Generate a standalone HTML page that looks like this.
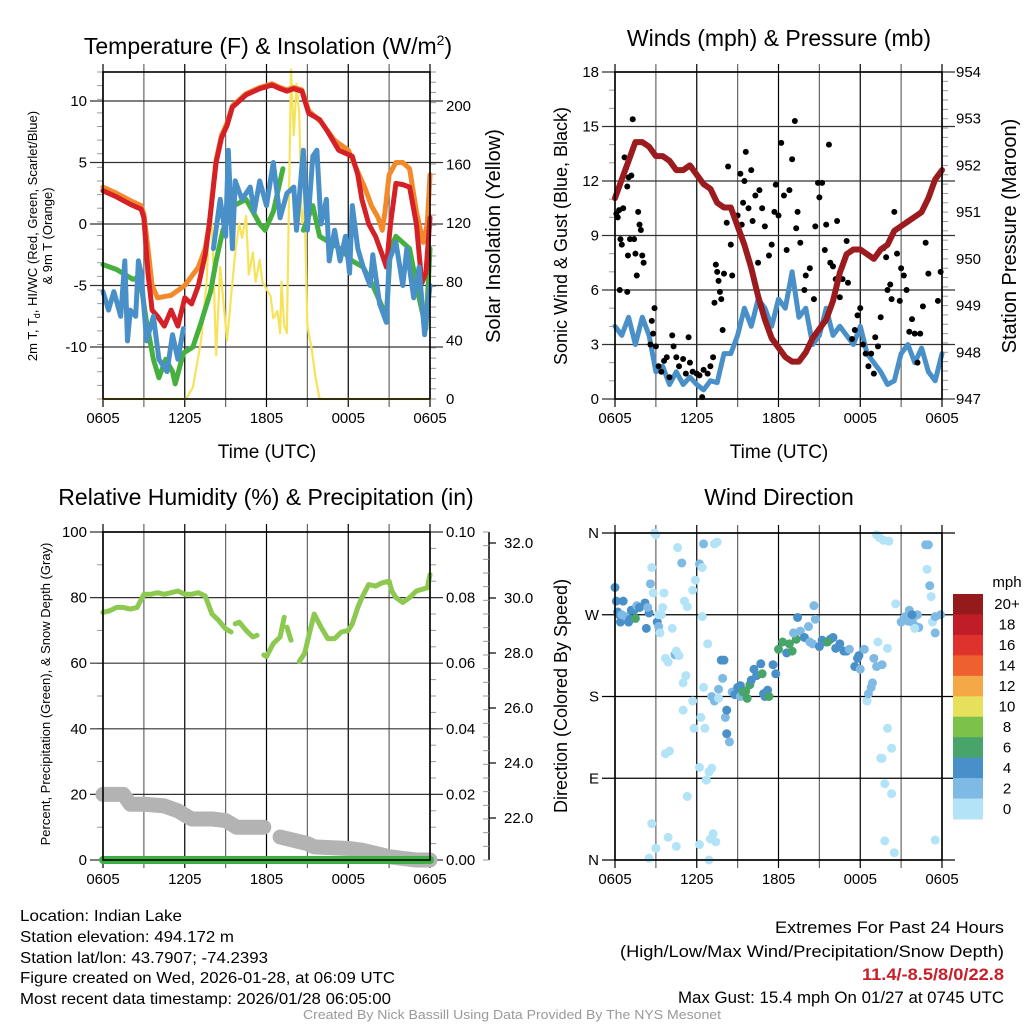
<!DOCTYPE html>
<html><head><meta charset="utf-8"><style>
html,body{margin:0;padding:0;background:#fff;}
svg{display:block;font-family:"Liberation Sans",Arial,sans-serif;}
</style></head><body>
<svg id="fig" width="1024" height="1024" viewBox="0 0 1024 1024">
<rect width="1024" height="1024" fill="#fff"/>
<text x="268" y="54" font-size="23" text-anchor="middle">Temperature (F) &amp; Insolation (W/m<tspan dy="-9" font-size="14">2</tspan><tspan dy="9">)</tspan></text>
<text x="779" y="46" font-size="23" text-anchor="middle">Winds (mph) &amp; Pressure (mb)</text>
<text x="266" y="505" font-size="23" text-anchor="middle">Relative Humidity (%) &amp; Precipitation (in)</text>
<text x="779" y="505" font-size="23" text-anchor="middle">Wind Direction</text>
<text x="267" y="458" font-size="19" text-anchor="middle">Time (UTC)</text>
<text x="779" y="458" font-size="19" text-anchor="middle">Time (UTC)</text>
<text transform="translate(37,236) rotate(-90)" font-size="13" text-anchor="middle">2m T, T<tspan dy="3" font-size="9">d</tspan><tspan dy="-3">, HI/WC (Red, Green, Scarlet/Blue)</tspan></text>
<text transform="translate(52,236) rotate(-90)" font-size="13" text-anchor="middle">&amp; 9m T (Orange)</text>
<text transform="translate(500,236) rotate(-90)" font-size="20" text-anchor="middle">Solar Insolation (Yellow)</text>
<text transform="translate(567,236) rotate(-90)" font-size="18" text-anchor="middle">Sonic Wind &amp; Gust (Blue, Black)</text>
<text transform="translate(1016,236) rotate(-90)" font-size="20" text-anchor="middle">Station Pressure (Maroon)</text>
<text transform="translate(50,694) rotate(-90)" font-size="13" text-anchor="middle">Percent, Precipitation (Green), &amp; Snow Depth (Gray)</text>
<text transform="translate(567,696) rotate(-90)" font-size="18" text-anchor="middle">Direction (Colored By Speed)</text>
<g font-size="16">
<text x="20" y="921" textLength="162" lengthAdjust="spacingAndGlyphs">Location: Indian Lake</text>
<text x="20" y="942" textLength="214" lengthAdjust="spacingAndGlyphs">Station elevation: 494.172 m</text>
<text x="20" y="963" textLength="248" lengthAdjust="spacingAndGlyphs">Station lat/lon: 43.7907; -74.2393</text>
<text x="20" y="983" textLength="375" lengthAdjust="spacingAndGlyphs">Figure created on Wed, 2026-01-28, at 06:09 UTC</text>
<text x="20" y="1004" textLength="371" lengthAdjust="spacingAndGlyphs">Most recent data timestamp: 2026/01/28 06:05:00</text>
</g>
<g font-size="17">
<text x="775" y="933" textLength="229" lengthAdjust="spacingAndGlyphs">Extremes For Past 24 Hours</text>
<text x="620" y="957" textLength="384" lengthAdjust="spacingAndGlyphs">(High/Low/Max Wind/Precipitation/Snow Depth)</text>
<text x="862" y="980" fill="#c8202a" font-weight="bold" textLength="142" lengthAdjust="spacingAndGlyphs">11.4/-8.5/8/0/22.8</text>
<text x="678" y="1003" textLength="326" lengthAdjust="spacingAndGlyphs">Max Gust: 15.4 mph On 01/27 at 0745 UTC</text>
</g>
<text x="303" y="1019" font-size="13" fill="#999" textLength="418" lengthAdjust="spacingAndGlyphs">Created By Nick Bassill Using Data Provided By The NYS Mesonet</text>
<g id="plots"></g>
</svg>
<script>
// ---------- data (hours after 0605 UTC) ----------
const xTickLabels = ["0605","1205","1805","0005","0605"];
const tempTicks = [-10,-5,0,5,10];
const solarTicks = [0,40,80,120,160,200];
const windTicks = [0,3,6,9,12,15,18];
const presTicks = [947,948,949,950,951,952,953,954];
const rhTicks = [0,20,40,60,80,100];
const precipTicks = ["0.00","0.02","0.04","0.06","0.08","0.10"];
const snowTicks = ["22.0","24.0","26.0","28.0","30.0","32.0"];
const dirTicks = ["N","E","S","W","N"];
const speedBins = ["0","2","4","6","8","10","12","14","16","18","20+"];

const redH = [0,1,2,2.8,3,3.3,3.6,4,4.5,5,5.5,6,6.5,7,7.5,7.8,8.3,8.7,9.1,9.5,10,10.5,11.5,12.4,13,13.5,14,14.6,15.1,15.9,16.5,17.3,18.3,18.7,19,19.5,20,20.5,20.8,21.1,21.5,22,22.5,23,23.4,23.7,24];
const redV = [2.7,2.2,1.6,1.2,0.5,-4,-7,-7.5,-8.3,-7,-8.3,-6,-6.5,-5,-2.5,0,5,7,8,9.5,10,10.5,11,11.3,11,10.8,11,10.8,9,8.5,7.5,6,5.5,4,2,0,-1,-2.5,-3.5,0,3.3,3.2,3,0,-4.8,-4,0.5];
const orangeH = [0,1,2,2.8,3,3.3,3.6,4,5,6,7,7.5,7.8,8.3,8.7,9.1,9.5,10,10.5,11.5,12.4,13,13.5,14,14.6,15.1,16,17,18,18.6,19.2,19.7,20.2,20.5,20.7,21,21.5,22,22.5,23,23.5,23.8,24];
const orangeV = [3,2.5,1.9,1.5,0.8,-2,-5,-6,-5.8,-5,-3.5,-2,0,5.2,7.2,8.2,9.6,10.1,10.6,11.1,11.4,11.1,10.9,11.1,10.9,9.2,8.3,6.8,6,4.5,3,1.5,0.5,-0.5,1,4,5,5,4.5,1,-1.5,0,4];
const greenH = [0,1,2.2,2.7,3.2,3.7,4.1,4.6,5.1,5.3,5.9,6.6,7.2,7.9,8.3,8.8,9.6,10.5,11,11.5,11.9,12.5,13.2,null,14.7,15.4,15.9,17.4,18.3,19.1,19.8,20.8,21.1,21.5,22.5,23.2,23.7,24];
const greenV = [-3.3,-3.7,-4.5,-4.3,-8,-11,-12.5,-11,-12,-13,-10.5,-10,-8,-5.5,-3,-0.5,1.5,2,1,0,-0.5,1,4.5,null,-0.5,1.5,-1,-2,-3,-3.5,-5,-7.5,-2,-1,-2,-6,-8.5,-2];
const blueH = [0,0.4,0.8,1.3,1.6,1.8,2,2.4,2.6,2.8,3.2,3.7,4.1,4.7,5.1,5.5,5.9,null,8.1,8.6,9,9.2,9.5,9.7,10.2,10.8,11.1,11.5,12,12.5,13,13.5,14,14.2,14.7,15,15.4,15.7,16,16.4,16.6,17,17.4,17.8,18.1,18.3,18.7,19.1,19.6,19.8,20.3,20.8,21,21.5,22,22.3,22.8,23.2,23.6,23.8,24];
const blueV = [-5.5,-7,-5.5,-7.5,-3,-9.5,-7,-7.5,-3,-4,-9.5,-7.5,-11,-12,-9,-11,-8.5,null,-2,2,-1,6,-2,3.5,2,3,1,3.5,1.5,5,0.5,2.5,3,-0.5,6,-0.5,5.5,6,0,2,-3,-0.5,-3,-1,-4,1.5,-2,-3.5,-5,-2.5,-6.5,-8,-3,-1.5,-5,-2,-6,-3.5,-9,-7,-5];
const solarH = [0,6.1,6.6,7.2,7.6,7.9,8.1,8.3,8.6,8.9,9.1,9.4,9.7,10,10.2,10.5,10.7,11,11.2,11.5,11.7,12,12.3,12.5,12.8,13,13.1,13.3,13.5,13.8,14,14.2,14.4,14.6,14.8,15,15.3,15.6,15.9,24];
const solarV = [0,0,8,40,80,140,90,30,90,60,40,70,100,120,110,125,85,100,80,95,80,75,70,55,60,45,80,50,45,225,180,215,195,120,130,50,35,15,0,0];

const windH = [0,0.5,1,1.5,2,2.5,3,3.5,4,4.5,5,5.5,6,6.5,7,7.5,8,8.5,9,9.5,10,10.5,11,11.5,12,12.5,13,13.5,14,14.5,15,15.5,16,16.5,17,17.5,18,18.5,19,19.5,20,20.5,21,21.5,22,22.5,23,23.5,24];
const windV = [4,3.5,4.5,3,4.5,3.5,1.5,1.8,0.8,1.5,0.8,1.2,0.8,0.5,1,0.9,2.5,2.5,3.5,5,4,5.5,5,4,5.5,5,7,4.5,5,3,3.5,5,3.5,4,3.5,3,4,2.5,2,1.5,0.8,1,2.5,3,2,2.8,1.5,1,2.5];
const presH = [0,0.5,1,1.5,2,2.5,3,3.5,4,4.5,5,5.5,6,6.5,7,7.5,8,8.5,9,9.5,10,10.5,11,11.5,12,12.5,13,13.5,14,14.5,15,15.5,16,16.5,17,17.5,18,18.5,19,19.5,20,20.5,21,21.5,22,22.5,23,23.5,24];
const presV = [951.3,951.7,952.1,952.5,952.5,952.4,952.2,952.2,952.1,951.9,951.9,952.0,951.8,951.6,951.5,951.2,951.1,951.1,950.7,950.3,949.8,949.2,948.7,948.3,948.1,947.9,947.8,947.8,948.0,948.3,948.5,948.7,949.1,949.7,950.1,950.2,950.2,950.1,950.0,950.2,950.3,950.6,950.7,950.8,950.9,951.0,951.3,951.7,951.9];
const gustH = [0.1,0.2,0.3,0.4,0.5,0.6,0.7,0.8,0.9,1.0,1.1,1.2,1.3,1.4,1.5,1.6,1.7,1.8,1.9,2.0,2.1,0.35,0.9,0.95,2.6,2.7,2.8,2.9,3.0,3.2,3.4,3.6,3.8,4.0,4.2,4.3,4.5,4.7,5.0,5.2,5.4,5.5,5.7,6.0,6.2,6.4,6.5,6.8,7.0,7.2,7.3,7.4,7.5,7.6,7.7,7.8,7.9,8.0,8.2,8.3,8.5,8.6,9.0,9.2,9.3,9.4,9.5,9.6,9.8,10.0,10.1,10.3,10.5,10.6,10.8,11.0,11.3,11.5,11.7,11.8,12.0,12.2,12.4,12.6,12.8,13.0,13.2,13.3,13.4,13.6,13.9,14.0,14.3,14.6,14.7,14.9,15.0,15.2,15.4,15.5,15.7,15.8,16.0,16.2,16.3,16.5,16.7,17.0,17.1,17.4,17.6,17.8,18.0,18.2,18.4,18.6,18.8,19.0,19.1,19.3,19.5,19.7,19.9,20.0,20.2,20.3,20.5,20.7,20.9,21.0,21.2,21.4,21.6,21.8,22.0,22.2,22.4,22.6,22.8,23.0,23.7,23.9];
const gustV = [10.2,10,10.4,8.8,8.5,10.5,13.3,12.7,11.7,12.2,8.8,12.3,15.4,8.8,8,6.8,10.3,9.6,9.3,7.9,7.5,6,5.9,7.9,3,4.3,3.6,5,2.9,1.8,1.5,2.1,2.3,1.2,3.5,2.9,2.3,1.8,2.2,1.4,3.4,2.0,1.5,1.4,1.3,0.1,1.6,1.4,1.8,2.3,5.3,7.4,7.0,6.5,5.9,5.5,3.8,6.9,9.7,12.8,8.5,6.8,10.1,12.4,9.6,10.8,12.0,13.6,10.5,12.6,9.8,11.2,7.5,11.5,10.5,9.5,7.9,8.5,10.3,11.8,10.1,14.1,11.2,8.2,11.5,13.2,15.3,9.4,10.3,8.6,6.0,6.8,7.2,5.5,9.5,11.9,11.1,11.9,8.2,9.6,14.0,7.5,7.3,6.6,9.8,5.6,6.6,8.7,6.4,3.3,3.8,4.6,5.0,3.0,2.5,1.8,2.5,1.4,3.4,2.9,4.5,8.3,7.8,6.0,6.3,5.5,10.3,8.0,5.4,7.2,6.8,6.0,3.7,4.4,3.6,2.0,3.6,5.1,8.6,6.9,5.4,7.0];

const rhH = [0,0.5,1,1.5,2,2.5,3,3.5,4,4.5,5,5.5,6,6.5,7,7.5,8,8.5,9,9.4,null,9.7,10,10.5,11,11.3,null,11.8,12,12.5,13,13.3,null,13.5,13.8,null,14.4,14.8,15.2,15.5,16,16.5,17,17.5,18,18.3,18.7,19,19.5,20,20.5,21,21.2,21.5,22,22.5,23,23.8,24];
const rhV = [75.5,76,77,77,76.5,77,81,81,81.5,81,81.5,82,81,81,81.5,80.5,75,73,70.5,69.5,null,72,72.5,70,68,68.5,null,62.5,62,66,68,74,null,71,67,null,60.5,63,70,75,71,67.5,67.5,69.5,70,72,77,80,84,83.5,84.5,85,82,80,78.5,80,82,83,87];
const snowH = [0,1.5,2,3,4.5,5.5,6.5,8,9,9.8,11.8,null,13,14,15,15.5,18,19,20,21,22,23,24];
const snowV = [20,20,17,17,16.5,15,12.5,12.5,12,10,10,null,7,6,5,4,3.5,3,2,1,0.5,0,0];
const precipH = [0,24];
const precipV = [0,0];

const dirH = [0,0.1,0.2,0.3,0.4,0.6,0.5,0.8,1,1.1,1.2,1.4,1.5,1.6,1.8,2.2,2.3,2.5,2.4,2.6,2.7,2.8,2.9,3.0,3.1,3.2,3.3,3.4,3.5,3.6,3.2,3.7,3.9,4.2,4.4,4.5,4.7,5.0,5.2,5.1,5.3,4.9,4.6,4.5,3.9,3.0,2.5,2.7,4.0,3.7,5.8,6.2,6.6,6.7,6.9,7.1,5.3,5.0,5.7,6.3,5.7,5.9,6.5,6.8,6.4,7.3,7.5,6.2,7.2,7.4,7.0,6.9,6.5,6.2,6.4,7.1,7.3,7.6,7.8,8.0,7.9,7.6,8.1,8.2,8.4,8.2,8.6,8.8,9.0,9.2,9.2,9.4,9.6,9.9,9.7,10.0,10.2,10.4,10.7,10.8,10.9,11.0,11.2,11.3,11.6,11.8,12.0,12.3,12.6,12.8,13.0,13.3,13.6,13.4,13.1,13.9,14.2,14.3,14.5,14.6,14.7,15.0,15.2,15.5,15.8,16.0,16.2,16.5,16.8,17.0,17.2,17.6,17.9,18.0,18.3,17.8,18.5,18.6,18.8,18.9,15.6,19.0,19.3,19.2,20.0,19.6,19.2,19.7,19.4,20.1,20.0,20.3,19.6,19.5,19.8,20.3,20.6,19.8,20.5,21.0,21.2,21.5,21.8,22.0,22.2,21.9,21.3,21.6,22.3,21.8,22.8,23.0,22.9,23.1,23.2,23.3,23.5,23.5,23.9,22.0,23.5];
const dirV = [300,285,273,270,262,285,270,268,262,265,275,275,266,280,278,283,255,272,278,304,322,294,360,358,262,257,250,270,278,294,270,222,218,255,226,230,225,195,203,285,279,327,344,15,25,13,2,40,120,117,145,102,145,88,97,101,70,165,175,157,297,308,190,238,268,348,350,17,29,20,23,0,348,326,322,180,175,178,220,220,200,188,157,139,130,165,185,182,190,192,180,185,186,193,178,198,210,203,216,205,183,180,187,180,215,205,232,240,228,238,230,243,252,267,250,245,257,240,238,280,265,235,242,240,243,245,233,238,230,230,232,213,225,210,232,222,175,183,190,195,240,222,240,213,233,215,358,352,355,351,145,123,112,112,84,73,282,21,8,262,266,263,262,258,270,267,268,275,256,270,347,347,320,302,290,262,268,250,270,255,22];
const dirC = [2,2,2,2,2,2,1,1,2,2,2,2,3,1,2,2,2,2,1,1,0,0,0,0,2,1,0,0,0,0,0,0,0,0,1,0,0,0,0,0,0,1,0,0,0,0,0,0,0,0,0,0,0,0,0,0,0,0,0,0,0,0,0,0,0,0,0,0,0,0,0,0,1,1,0,1,1,0,2,2,1,1,1,2,1,2,1,2,2,2,1,3,3,3,3,2,2,2,2,3,2,2,2,3,2,2,3,3,2,3,3,3,1,2,1,2,1,1,1,1,1,2,2,2,2,2,2,2,2,2,1,2,2,1,1,2,0,1,1,1,3,1,0,1,0,1,0,0,0,0,0,0,0,0,0,0,0,0,0,1,1,1,1,1,1,1,1,1,1,2,1,1,0,1,0,0,1,1,1,0,0];
const binColors = ["#b3e3f7","#7fbae5","#4a90c8","#47a56a","#7cc24a","#e6e05a","#f5a946","#ee6030","#de332d","#c01d27","#951a1c"];

// ---------- drawing ----------
const NS="http://www.w3.org/2000/svg";
const root=document.getElementById('plots');
function mk(tag,attrs,parent){const e=document.createElementNS(NS,tag);for(const k in attrs)e.setAttribute(k,attrs[k]);(parent||root).appendChild(e);return e;}
function scale(d0,d1,r0,r1){return v=>r0+(v-d0)*(r1-r0)/(d1-d0);}
function pathD(xs,ys,sx,sy){let d="",pen=false;for(let i=0;i<xs.length;i++){if(xs[i]===null||ys[i]===null){pen=false;continue;}d+=(pen?"L":"M")+sx(xs[i]).toFixed(1)+","+sy(ys[i]).toFixed(1);pen=true;}return d;}

function frame(L,R,T,B,name){
  const g=mk('g',{});
  
  
  const sx=scale(0,24,L,R);
  for(let h=0;h<=24;h+=3){mk('line',{x1:sx(h),x2:sx(h),y1:T-8,y2:B+8,stroke:(h%6===0)?'#000':'#666','stroke-width':1.2},g);}
  xTickLabels.forEach((t,i)=>{const tx=mk('text',{x:sx(i*6),y:B+24,'font-size':15,'text-anchor':'middle'},g);tx.textContent=t;
    
    });
  return {g,sx};
}
function hgrid(g,L,R,ys,color){ys.forEach(y=>mk('line',{x1:L-13,x2:R+13,y1:y,y2:y,stroke:color||'#333','stroke-width':1.2},g));}
function box(g,L,R,T,B){mk('rect',{x:L,y:T,width:R-L,height:B-T,fill:'none',stroke:'#000','stroke-width':1.6},g);}
function minor(g,x,y0,y1,n,dir){for(let i=0;i<=n;i++){const y=y0+(y1-y0)*i/n;mk('line',{x1:x,x2:x+dir*6,y1:y,y2:y,stroke:'#999','stroke-width':1},g);}}
function lbl(g,x,y,t,anchor,size,name){const e=mk('text',{x:x,y:y+5,'font-size':size||15,'text-anchor':anchor},g);e.textContent=t;
  
  return e;}
function line(xs,ys,sx,sy,color,w,name){const p=mk('path',{d:pathD(xs,ys,sx,sy),fill:'none',stroke:color,'stroke-width':w,'stroke-linejoin':'round','stroke-linecap':'round'});
  
  return p;}

// Panel 1: temperature
(function(){
  const L=103,R=430,T=72,B=399;
  const {g,sx}=frame(L,R,T,B,'temperature');
  const sy=scale(0,10,224,101);
  const sS=scale(0,200,399,106);
  minor(g,L,T,B,24,-1);minor(g,R,T,B,32,1);
  hgrid(g,L,R,tempTicks.map(sy));
  tempTicks.forEach(v=>lbl(g,L-16,sy(v),String(v),'end',15,'temp-tick-label'));
  solarTicks.forEach(v=>lbl(g,R+16,sS(v),String(v),'start',15,'solar-tick-label'));
  line(solarH,solarV,sx,sS,'#f7e35a',2.2,'solar-insolation-line');
  line(greenH,greenV,sx,sy,'#45b03e',5,'dewpoint-line');
  line(orangeH,orangeV,sx,sy,'#f28a2b',5,'temp-9m-line');
  line(redH,redV,sx,sy,'#d42027',5,'temp-2m-line');
  line(blueH,blueV,sx,sy,'#4a90c8',5,'wind-chill-line');
  box(root,L,R,T,B);
})();

// Panel 2: winds
(function(){
  const L=615,R=942,T=72,B=399;
  const {g,sx}=frame(L,R,T,B,'winds');
  const sy=scale(0,18,B,T);
  const sp=scale(947,954,B,T);
  minor(g,L,T,B,18,-1);minor(g,R,T,B,35,1);
  hgrid(g,L,R,windTicks.map(sy));
  windTicks.forEach(v=>lbl(g,L-16,sy(v),String(v),'end',15,'wind-tick-label'));
  presTicks.forEach(v=>lbl(g,R+14,sp(v),String(v),'start',15,'pressure-tick-label'));
  line(windH,windV,sx,sy,'#4a90c8',5,'sonic-wind-line');
  gustH.forEach((h,i)=>{const c=mk('circle',{cx:sx(h),cy:sy(gustV[i]),r:3,fill:'#000'});
    
    });
  line(presH,presV,sx,sp,'#9b1b1e',6,'pressure-line');
  box(root,L,R,T,B);
})();

// Panel 3: humidity
(function(){
  const L=103,R=430,T=532,B=860;
  const {g,sx}=frame(L,R,T,B,'humidity');
  const sy=scale(0,100,B,T);
  minor(g,L,T,B,10,-1);minor(g,R,T,B,20,1);
  hgrid(g,L,R,rhTicks.map(sy));
  rhTicks.forEach(v=>lbl(g,L-16,sy(v),String(v),'end',15,'rh-tick-label'));
  precipTicks.forEach((t,i)=>lbl(g,R+16,sy(i*20),t,'start',15,'precip-tick-label'));
  const ss=scale(22,32,818,543);
  mk('line',{x1:489,x2:489,y1:532,y2:860,stroke:'#000','stroke-width':1.5},g);
  minor(g,489,532,860,24,-1);
  snowTicks.forEach(t=>{const y=ss(parseFloat(t));mk('line',{x1:489,x2:496,y1:y,y2:y,stroke:'#000','stroke-width':1.2},g);lbl(g,504,y,t,'start',15,'snow-tick-label');});
  line(snowH,snowV,sx,sy,'#b3b3b3',15,'snow-depth-line');
  line(precipH,precipV,sx,sy,'#3cb043',8,'precipitation-line');
  line(rhH,rhV,sx,sy,'#8dc850',5,'relative-humidity-line');
  box(root,L,R,T,B);
})();

// Panel 4: wind direction
(function(){
  const L=615,R=942,T=533,B=860;
  const {g,sx}=frame(L,R,T,B,'wind-direction');
  const sy=scale(0,360,B,T);
  hgrid(g,L,R,[0,90,180,270,360].map(sy),'#000');
  dirTicks.forEach((t,i)=>lbl(g,L-16,sy(i*90),t,'end',15,'direction-tick-label'));
  dirH.forEach((h,i)=>{const c=mk('circle',{cx:sx(h),cy:sy(dirV[i]),r:4.5,fill:binColors[dirC[i]]});
    
    });
  box(root,L,R,T,B);
  const cb=mk('g',{});
  
  
  const cbT=594,cbB=819,n=speedBins.length,hgt=(cbB-cbT)/n;
  for(let i=0;i<n;i++){const k=n-1-i;mk('rect',{x:953,y:cbT+i*hgt,width:30,height:hgt+0.5,fill:binColors[k]},cb);
    lbl(cb,1007,cbT+i*hgt+hgt/2,speedBins[k],'middle',15,'colorbar-label');}
  lbl(cb,1007,582,'mph','middle',15,'colorbar-title');
})();
</script>
</body></html>
